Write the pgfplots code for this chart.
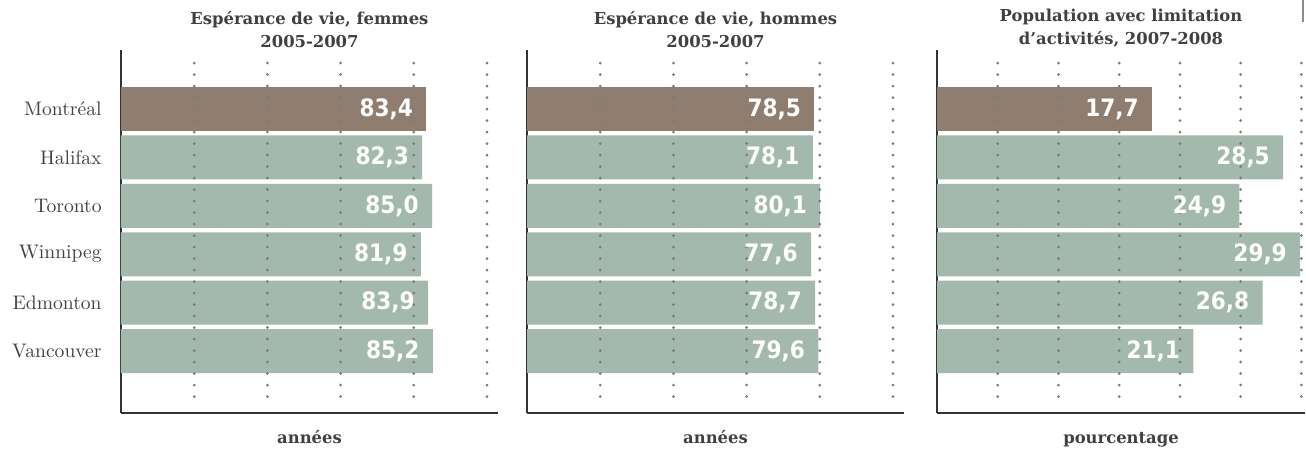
\documentclass[border=0pt]{standalone}
\usepackage{fontspec}
\usepackage{pgfplots}
\pgfplotsset{compat=1.18}
\newfontfamily\titlefont{DejaVu Serif}
\newfontfamily\valfont{DejaVuSansCondensed-Bold.ttf}
\definecolor{mtl}{HTML}{8F7E6F}
\definecolor{oth}{HTML}{A4B9AD}
\definecolor{dots}{HTML}{7A7A7A}
\definecolor{txt}{HTML}{404040}

\pgfplotsset{
  every axis title shift=0pt,
  panel/.style={scale only axis, height=181.5pt, xmin=0, ymin=-1.28, ymax=6.22,
    axis x line*=bottom, axis y line*=left,
    axis line style={-, draw=black!80, line width=0.75pt},
    xtick=\empty, ytick={0,...,5}, major tick length=0pt, yticklabels=\empty,
    clip=false,
    title style={font=\titlefont\bfseries\fontsize{8.2}{11.5}\selectfont, align=center,
      text=txt, at={(0.5,1)}, anchor=south, inner sep=0pt, yshift=1pt},
    xlabel style={font=\titlefont\bfseries\fontsize{8.2}{10}\selectfont, text=txt,
      at={(0.5,0)}, anchor=base, inner sep=0pt, yshift=-15pt},
    /pgf/number format/fixed, /pgf/number format/fixed zerofill,
    /pgf/number format/precision=1, /pgf/number format/use comma,
    /pgf/number format/assume math mode=true},
  bars/.style={xbar, bar shift=0pt, bar width=22pt, draw=none, fill=#1,
    point meta=x, nodes near coords, nodes near coords align={anchor=east},
    every node near coord/.append style={text=white, xshift=-6.5pt, inner sep=0pt,
      font=\valfont\fontsize{12}{12}\selectfont}},
  gl/.style={forget plot, color=dots, line width=1.5pt, line cap=round,
    dash pattern=on 0pt off 5.75pt},
}

\begin{document}
\begin{tikzpicture}
\useasboundingbox (-60.5pt,-22pt) rectangle (592.5pt,206.5pt);

% panel 1
\begin{axis}[panel, width=188.5pt, xmax=103,
  yticklabels={Vancouver,Edmonton,Winnipeg,Toronto,Halifax,Montréal},
  yticklabel style={anchor=east, inner sep=0pt, xshift=-9.5pt, text=txt,
    font=\fontsize{9.8}{10}\selectfont},
  title={Espérance de vie, femmes\\2005-2007}, xlabel={années}]
\addplot[bars=mtl] coordinates {(83.4,5)};
\addplot[bars=oth] coordinates {(82.3,4) (85.0,3) (81.9,2) (83.9,1) (85.2,0)};
\addplot[gl] coordinates {(20,5.95) (20,-1.0)};
\addplot[gl] coordinates {(40,5.95) (40,-1.0)};
\addplot[gl] coordinates {(60,5.95) (60,-1.0)};
\addplot[gl] coordinates {(80,5.95) (80,-1.0)};
\addplot[gl] coordinates {(100,5.95) (100,-1.0)};
\end{axis}

% panel 2
\begin{axis}[panel, at={(203pt,0pt)}, width=188.5pt, xmax=103,
  title={Espérance de vie, hommes\\2005-2007}, xlabel={années}]
\addplot[bars=mtl] coordinates {(78.5,5)};
\addplot[bars=oth] coordinates {(78.1,4) (80.1,3) (77.6,2) (78.7,1) (79.6,0)};
\addplot[gl] coordinates {(20,5.95) (20,-1.0)};
\addplot[gl] coordinates {(40,5.95) (40,-1.0)};
\addplot[gl] coordinates {(60,5.95) (60,-1.0)};
\addplot[gl] coordinates {(80,5.95) (80,-1.0)};
\addplot[gl] coordinates {(100,5.95) (100,-1.0)};
\end{axis}

% panel 3
\begin{axis}[panel, at={(408pt,0pt)}, width=184pt, xmax=30.3,
  title={Population avec limitation\\d’activités, 2007-2008}, xlabel={pourcentage}]
\addplot[bars=mtl] coordinates {(17.7,5)};
\addplot[bars=oth] coordinates {(28.5,4) (24.9,3) (29.9,2) (26.8,1) (21.1,0)};
\addplot[gl] coordinates {(5,5.95) (5,-1.0)};
\addplot[gl] coordinates {(10,5.95) (10,-1.0)};
\addplot[gl] coordinates {(15,5.95) (15,-1.0)};
\addplot[gl] coordinates {(20,5.95) (20,-1.0)};
\addplot[gl] coordinates {(25,5.95) (25,-1.0)};
\addplot[gl] coordinates {(30,5.95) (30,-1.0)};
\end{axis}

\draw[black!45, line width=0.75pt] (591pt,206.5pt) -- (591pt,195.5pt);
\end{tikzpicture}
\end{document}
